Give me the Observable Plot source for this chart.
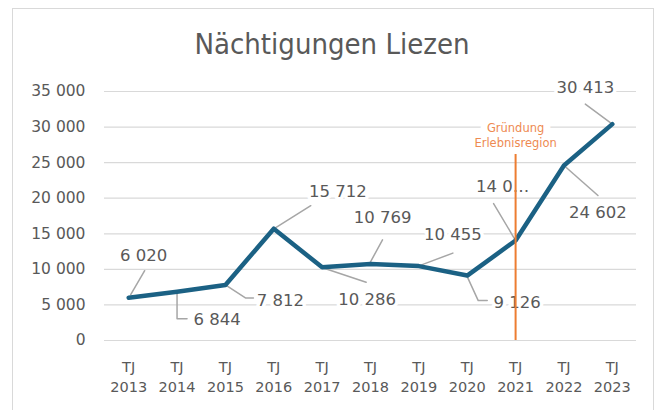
<!DOCTYPE html>
<html>
<head>
<meta charset="utf-8">
<script src="https://cdn.jsdelivr.net/npm/d3@7"></script>
<script src="https://cdn.jsdelivr.net/npm/@observablehq/plot@0.6"></script>
<style>
  html, body { margin: 0; padding: 0; background: #fff; }
  #wrap { position: relative; width: 664px; height: 410px; overflow: hidden; }
  #frame { position: absolute; left: 12px; top: 8px; width: 642px; height: 420px; border: 1.5px solid #d9d9d9; box-sizing: border-box; pointer-events: none; }
  #title { position: absolute; left: 0; width: 664px; top: 30px; line-height: 1; text-align: center; font-family: "Liberation Sans Narrow", "DejaVu Sans Condensed", "Liberation Sans", sans-serif; font-size: 29px; color: #595959; }
  #chart { position: absolute; left: 0; top: 0; }
</style>
</head>
<body>
<div id="wrap">
  <div id="chart"></div>
  <div id="frame"></div>
  <div id="title">Nächtigungen Liezen</div>
</div>
<script>
// ---- data ----
const years = [2013, 2014, 2015, 2016, 2017, 2018, 2019, 2020, 2021, 2022, 2023];
const values = [6020, 6844, 7812, 15712, 10286, 10769, 10455, 9126, 14050, 24602, 30413];
const valueLabels = ["6 020", "6 844", "7 812", "15 712", "10 286", "10 769", "10 455", "9 126", "14 0…", "24 602", "30 413"];
const yTicks = [0, 5000, 10000, 15000, 20000, 25000, 30000, 35000];
const tickPrefix = "TJ";
const eventYear = 2021;
const eventTop = 26300;
const eventLabel = ["Gründung", "Erlebnisregion"];

// ---- layout (pixel offsets of labels/leaders relative to their point) ----
const W = 664, H = 410, mL = 104, mR = 28, mT = 91, mB = 70;
const pxYear = (W - mL - mR) / 11;
const pxUnit = (H - mT - mB) / 35000;
const labelOffsets = [[15,-42],[40,28],[55,16],[64,-37],[45,32],[12,-46],[34,-31],[50,27],[-13,-54],[34,47],[-27,-36]];
const leaderPaths = [
  [[2,-3],[16,-27]],
  [[0,1],[0,27],[10,27]],
  [[0,0],[20,13],[28,13]],
  [[2,-1],[37,-23]],
  [[2,1],[44,15]],
  [[0,-2],[12,-24]],
  [[2,-1],[34,-13]],
  [[0,1],[11,25],[20,25]],
  [[0,0],[-22,-37]],
  [[0,0],[34,30]],
  [[0,0],[-27,-20]]
];

const data = years.map((year, i) => ({year, value: values[i], label: valueLabels[i]}));
const toData = (i, [dx, dy]) => ({x: years[i] + dx / pxYear, y: values[i] - dy / pxUnit, k: i});
const labelPts = data.map((d, i) => ({...toData(i, labelOffsets[i]), label: d.label}));
const leaderPts = leaderPaths.flatMap((p, i) => p.map(o => toData(i, o)));

const fontFam = "DejaVu Sans, Liberation Sans, sans-serif";
const grey = "#595959";
const eventText = {x: () => eventYear, y: () => eventTop, dy: -19, lineHeight: 1.35, fontSize: 11.5, lineAnchor: "middle"};

const chart = Plot.plot({
  width: W, height: H,
  marginLeft: mL, marginRight: mR, marginTop: mT, marginBottom: mB,
  style: {fontFamily: fontFam, color: grey, background: "transparent", overflow: "visible"},
  x: {type: "linear", domain: [2012.5, 2023.5]},
  y: {domain: [0, 35000]},
  marks: [
    Plot.ruleY(yTicks, {stroke: "#d9d9d9", strokeWidth: 1.2}),
    Plot.axisY({ticks: yTicks, tickSize: 0, tickPadding: 19, fontSize: 15.5, fill: grey,
      tickFormat: d => d3.format(",")(d).replace(/,/g, " ")}),
    Plot.axisX({ticks: years, tickSize: 0, tickPadding: 21, fontSize: 14.5, fill: grey,
      tickFormat: () => tickPrefix}),
    Plot.axisX({ticks: years, tickSize: 0, tickPadding: 41, fontSize: 14.5, fill: grey,
      tickFormat: d => String(d)}),
    Plot.text(labelPts, {x: "x", y: "y", text: "label", fontSize: 16.5, fill: "white",
      stroke: "white", strokeWidth: 7, lineAnchor: "middle"}),
    Plot.text(labelPts, {x: "x", y: "y", text: "label", fontSize: 16.5, fill: grey, lineAnchor: "middle"}),
    Plot.line(leaderPts, {x: "x", y: "y", z: "k", stroke: "#a6a6a6", strokeWidth: 1.5}),
    Plot.line(data, {x: "year", y: "value", stroke: "#1b6184", strokeWidth: 4.5, strokeLinejoin: "round", strokeLinecap: "round"}),
    Plot.ruleX([eventYear], {y1: 0, y2: eventTop, stroke: "#ED7D31", strokeWidth: 2}),
    Plot.text([eventLabel.join("\n")], {...eventText, fill: "white", stroke: "white", strokeWidth: 14}),
    Plot.text([eventLabel.join("\n")], {...eventText, fill: "#EE8A52"})
  ]
});
document.getElementById("chart").appendChild(chart);
</script>
</body>
</html>
